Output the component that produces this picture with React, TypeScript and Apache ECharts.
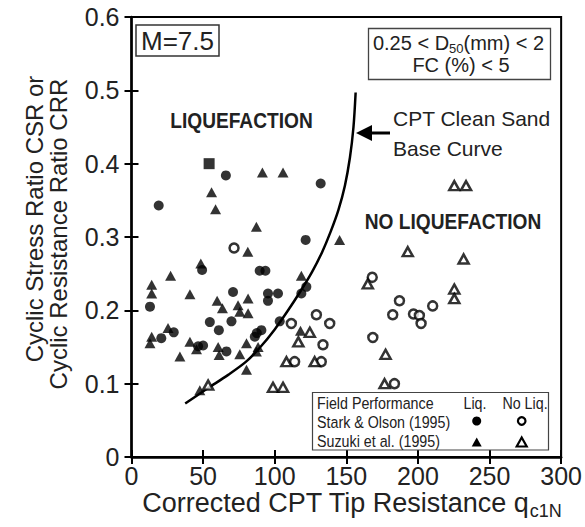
import React, { useEffect, useRef } from "react";
import * as echarts from "echarts";

// CPT clean sand base curve (qc1N, CRR)
const baseCurve: [number, number][] = [
  [37.5, 0.073], [53.5, 0.094], [67.5, 0.112], [80, 0.13], [90, 0.15],
  [100, 0.174], [109, 0.199], [118, 0.226], [126, 0.252], [133, 0.279],
  [139, 0.307], [144.5, 0.337], [149, 0.37], [152.5, 0.408], [155, 0.45], [156.5, 0.497],
];

// Stark & Olson (1995), liquefaction (filled circles)
const starkLiq: [number, number][] = [
  [19.0, 0.343], [65.9, 0.384], [132.1, 0.373], [121.6, 0.296], [49.3, 0.255],
  [89.5, 0.254], [93.5, 0.254], [122.1, 0.232], [118.6, 0.223], [70.9, 0.225],
  [95.3, 0.223], [102.3, 0.223], [95.3, 0.213], [12.9, 0.205], [54.7, 0.184],
  [69.8, 0.185], [61.0, 0.173], [20.8, 0.162], [29.5, 0.17], [46.5, 0.151],
  [50.0, 0.152], [66.3, 0.144], [86.1, 0.164], [87.5, 0.169], [90.7, 0.173],
  [103.5, 0.185],
];

// Stark & Olson (1995), liquefaction square marker
const starkLiqSquare: [number, number][] = [[54.2, 0.4]];

// Suzuki et al. (1995), liquefaction (filled triangles)
const suzukiLiq: [number, number][] = [
  [91.4, 0.388], [105.8, 0.388], [55.9, 0.361], [58.7, 0.338], [87.2, 0.314],
  [145.3, 0.296], [81.2, 0.28], [48.4, 0.264], [27.3, 0.247], [118.6, 0.247],
  [14.1, 0.235], [14.1, 0.223], [40.8, 0.222], [81.4, 0.216], [59.8, 0.213],
  [63.5, 0.203], [74.4, 0.207], [75.6, 0.198], [81.4, 0.196], [25.5, 0.176],
  [14.1, 0.164], [12.9, 0.155], [33.8, 0.137], [40.8, 0.157], [45.4, 0.147],
  [60.5, 0.15], [61.2, 0.139], [75.6, 0.14], [80.3, 0.155], [80.3, 0.119],
  [88.4, 0.15], [87.2, 0.144], [47.7, 0.091], [118.0, 0.172],
];

// Stark & Olson (1995), no liquefaction (open circles)
const starkNoLiq: [number, number][] = [
  [71.6, 0.285], [111.6, 0.182], [129.1, 0.194], [138.4, 0.182], [133.7, 0.153],
  [113.9, 0.13], [132.5, 0.13], [168.1, 0.245], [168.5, 0.163], [187.1, 0.213],
  [182.4, 0.194], [196.9, 0.195], [201.0, 0.193], [202.2, 0.182], [210.3, 0.206],
  [183.6, 0.1],
];

// Suzuki et al. (1995), no liquefaction (open triangles)
const suzukiNoLiq: [number, number][] = [
  [53.5, 0.098], [98.8, 0.095], [105.8, 0.095], [108.2, 0.13], [127.9, 0.13],
  [124.5, 0.17], [116.5, 0.157], [165.0, 0.236], [176.7, 0.1], [177.4, 0.14],
  [192.9, 0.28], [225.4, 0.37], [233.6, 0.37], [231.9, 0.27], [225.4, 0.229],
  [225.4, 0.216],
];

const FONT = "'Liberation Sans', Arial, sans-serif";
const TXT = "#222";

function measure(text: string, size: number, family: string, weight = "normal"): number {
  const c = document.createElement("canvas").getContext("2d");
  if (!c) return text.length * size * 0.5;
  c.font = `${weight} ${size}px ${family}`;
  return c.measureText(text).width;
}

export default function App() {
  const ref = useRef<HTMLDivElement>(null);
  useEffect(() => {
    if (!ref.current) return;
    const chart = echarts.init(ref.current, null, { renderer: "svg" });

    // x-axis title with subscript
    const xMain = "Corrected CPT Tip Resistance q";
    const xSub = "c1N";
    const xMainW = measure(xMain, 27, FONT);
    const xSubW = measure(xSub, 18, FONT);
    const xStart = 352 - (xMainW + xSubW) / 2;

    // D50 line with subscript
    const d1 = "0.25 < D";
    const d2 = "50";
    const d3 = "(mm) < 2";
    const d1W = measure(d1, 20, FONT);
    const d2W = measure(d2, 13, FONT);
    const d3W = measure(d3, 20, FONT);
    const dStart = 458.5 - (d1W + d2W + d3W) / 2;

    const t = (text: string, x: number, y: number, size: number, opts: any = {}) => ({
      type: "text",
      x,
      y,
      rotation: opts.rotation || 0,
      scaleX: opts.scaleX || 1,
      silent: true,
      z: 10,
      style: {
        text,
        fontSize: size,
        fontFamily: FONT,
        fontWeight: opts.weight || "normal",
        fill: opts.color || TXT,
        textAlign: opts.align || "center",
        textVerticalAlign: "middle",
      },
    });

    const tri = (cx: number, cy: number, w: number, h: number, filled: boolean) => ({
      type: "polygon",
      silent: true,
      z: 10,
      shape: { points: [[cx, cy - h / 2], [cx + w / 2, cy + h / 2], [cx - w / 2, cy + h / 2]] },
      style: filled ? { fill: "#000" } : { fill: "#fff", stroke: "#000", lineWidth: 2.2 },
    });

    const option: any = {
      animation: false,
      grid: {
        left: 131.5,
        right: 23,
        top: 17,
        bottom: 70,
        show: true,
        borderColor: "#000",
        borderWidth: 2,
        backgroundColor: "transparent",
      },
      xAxis: [
        {
          type: "value",
          min: 0,
          max: 300,
          interval: 50,
          axisLine: { show: true, onZero: false, lineStyle: { color: "#000", width: 2.5 } },
          axisTick: { show: true, length: 7, lineStyle: { color: "#000", width: 2 } },
          axisLabel: { fontSize: 25, color: TXT, fontFamily: FONT, margin: 6 },
          splitLine: { show: false },
        },
        {
          type: "value",
          min: 0,
          max: 300,
          interval: 50,
          position: "bottom",
          axisLine: { show: false },
          axisTick: { show: true, inside: true, length: 7, lineStyle: { color: "#000", width: 2 } },
          axisLabel: { show: false },
          splitLine: { show: false },
        },
      ],
      yAxis: [
        {
          type: "value",
          min: 0,
          max: 0.6,
          interval: 0.1,
          axisLine: { show: true, onZero: false, lineStyle: { color: "#000", width: 2.5 } },
          axisTick: { show: true, length: 7, lineStyle: { color: "#000", width: 2 } },
          axisLabel: {
            fontSize: 25,
            color: TXT,
            fontFamily: FONT,
            margin: 12,
            formatter: (v: number) => (v === 0 ? "0" : v.toFixed(1)),
          },
          splitLine: { show: false },
        },
        {
          type: "value",
          min: 0,
          max: 0.6,
          interval: 0.1,
          position: "left",
          axisLine: { show: false },
          axisTick: { show: true, inside: true, length: 7, lineStyle: { color: "#000", width: 2 } },
          axisLabel: { show: false },
          splitLine: { show: false },
        },
      ],
      series: [
        {
          type: "line",
          data: baseCurve,
          smooth: 0.3,
          symbol: "none",
          silent: true,
          lineStyle: { color: "#000", width: 2.5 },
          z: 2,
        },
        {
          type: "scatter",
          data: starkLiq,
          symbol: "circle",
          symbolSize: 10,
          silent: true,
          itemStyle: { color: "#000" },
          z: 3,
        },
        {
          type: "scatter",
          data: starkLiqSquare,
          symbol: "rect",
          symbolSize: 11,
          silent: true,
          itemStyle: { color: "#000" },
          z: 3,
        },
        {
          type: "scatter",
          data: suzukiLiq,
          symbol: "triangle",
          symbolSize: [11, 10],
          silent: true,
          itemStyle: { color: "#000" },
          z: 3,
        },
        {
          type: "scatter",
          data: starkNoLiq,
          symbol: "circle",
          symbolSize: 9,
          silent: true,
          itemStyle: { color: "#fff", borderColor: "#000", borderWidth: 2.5 },
          z: 4,
        },
        {
          type: "scatter",
          data: suzukiNoLiq,
          symbol: "triangle",
          symbolSize: [10, 9],
          silent: true,
          itemStyle: { color: "#fff", borderColor: "#000", borderWidth: 2.5 },
          z: 4,
        },
      ],
      graphic: [
        // y-axis title
        t("Cyclic Stress Ratio CSR or", 34, 219, 24, { rotation: Math.PI / 2 }),
        t("Cyclic Resistance Ratio CRR", 58, 234, 24, { rotation: Math.PI / 2 }),
        // x-axis title
        t(xMain, xStart, 503, 27, { align: "left" }),
        t(xSub, xStart + xMainW, 511, 18, { align: "left" }),
        // M=7.5 box
        {
          type: "rect",
          silent: true,
          z: 9,
          shape: { x: 136, y: 25, width: 83, height: 31 },
          style: { fill: "#fff", stroke: "#333", lineWidth: 1.5 },
        },
        t("M=7.5", 177.5, 41, 26),
        // D50 box
        {
          type: "rect",
          silent: true,
          z: 9,
          shape: { x: 368.5, y: 28.5, width: 182, height: 51 },
          style: { fill: "#fff", stroke: "#444", lineWidth: 1.3 },
        },
        t(d1, dStart, 43, 20, { align: "left" }),
        t(d2, dStart + d1W, 48, 13, { align: "left" }),
        t(d3, dStart + d1W + d2W, 43, 20, { align: "left" }),
        t("FC (%) < 5", 461, 65, 20),
        // region labels
        t("LIQUEFACTION", 241.5, 120, 22, { weight: "bold", scaleX: 0.87 }),
        t("NO LIQUEFACTION", 453, 221, 22, { weight: "bold", scaleX: 0.87 }),
        // curve annotation
        t("CPT Clean Sand", 393, 118, 21, { align: "left" }),
        t("Base Curve", 393, 148, 21, { align: "left" }),
        {
          type: "line",
          silent: true,
          z: 10,
          shape: { x1: 370, y1: 133, x2: 390, y2: 133 },
          style: { stroke: "#000", lineWidth: 3 },
        },
        {
          type: "polygon",
          silent: true,
          z: 10,
          shape: { points: [[356, 133], [372, 125], [372, 141]] },
          style: { fill: "#000" },
        },
        // legend box
        {
          type: "rect",
          silent: true,
          z: 9,
          shape: { x: 312.5, y: 392.5, width: 236, height: 57.5 },
          style: { fill: "#fff", stroke: "#444", lineWidth: 1.2 },
        },
        t("Field Performance", 317, 403, 17, { align: "left", scaleX: 0.84 }),
        t("Stark & Olson (1995)", 317, 422, 17, { align: "left", scaleX: 0.84 }),
        t("Suzuki et al. (1995)", 317, 441, 17, { align: "left", scaleX: 0.84 }),
        t("Liq.", 475, 403, 17, { scaleX: 0.84 }),
        t("No Liq.", 525, 403, 17, { scaleX: 0.84 }),
        {
          type: "circle",
          silent: true,
          z: 10,
          shape: { cx: 476.7, cy: 421, r: 4.5 },
          style: { fill: "#000" },
        },
        {
          type: "circle",
          silent: true,
          z: 10,
          shape: { cx: 521.7, cy: 421, r: 3.8 },
          style: { fill: "#fff", stroke: "#000", lineWidth: 2.2 },
        },
        tri(476.7, 442, 10, 9, true),
        tri(521.7, 442, 10, 9, false),
      ],
    };

    chart.setOption(option);
    return () => chart.dispose();
  }, []);

  return (
    <div
      ref={ref}
      style={{ position: "fixed", left: 0, top: 0, width: 585, height: 527, background: "#fff" }}
    />
  );
}
